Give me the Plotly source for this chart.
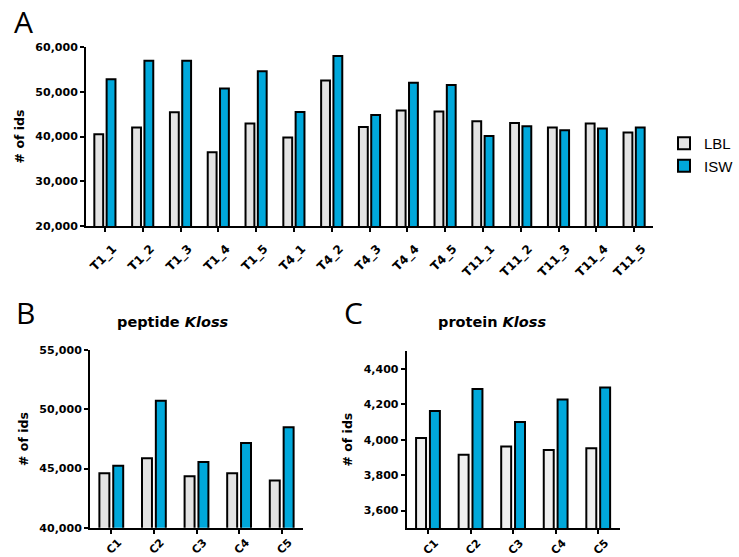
import plotly.graph_objects as go

# ---------------- data ----------------
samples_a = ["T1_1", "T1_2", "T1_3", "T1_4", "T1_5",
             "T4_1", "T4_2", "T4_3", "T4_4", "T4_5",
             "T11_1", "T11_2", "T11_3", "T11_4", "T11_5"]
lbl_a = [40500, 42000, 45400, 36500, 42900,
         39800, 52500, 42100, 45800, 45600,
         43400, 43000, 42000, 42900, 40900]
isw_a = [52800, 56900, 56900, 50700, 54600,
         45500, 58000, 44800, 52000, 51500,
         40100, 42300, 41400, 41800, 42000]

conditions = ["C1", "C2", "C3", "C4", "C5"]
lbl_pep = [44600, 45870, 44340, 44600, 44000]
isw_pep = [45240, 50740, 45550, 47160, 48490]
lbl_prot = [4010, 3915, 3962, 3942, 3952]
isw_prot = [4162, 4285, 4099, 4226, 4294]

# ---------------- styling ----------------
W, H = 739, 557
LBL_COL = "#e3e3e3"
LBL_COL_C = "#efefef"
ISW_COL = "#00a8db"
TICKFONT = dict(family="DejaVu Sans", size=11, color="black", weight="bold")
XTICKFONT = dict(family="DejaVu Sans", size=12, color="black", weight="bold")
XTICKFONT_BC = dict(family="DejaVu Sans", size=11, color="black", weight="bold")


def px(x):
    return x / W


def py(y):
    return 1 - y / H


fig = go.Figure()


def add_pair(xs, lbl, isw, xa, ya, show, lbl_col):
    fig.add_trace(go.Bar(x=xs, y=lbl, name="LBL", xaxis=xa, yaxis=ya,
                         marker=dict(color=lbl_col, line=dict(color="black", width=2)),
                         showlegend=show, legendgroup="LBL"))
    fig.add_trace(go.Bar(x=xs, y=isw, name="ISW", xaxis=xa, yaxis=ya,
                         marker=dict(color=ISW_COL, line=dict(color="black", width=2)),
                         showlegend=show, legendgroup="ISW"))


add_pair(samples_a, lbl_a, isw_a, "x", "y", True, LBL_COL)
add_pair(conditions, lbl_pep, isw_pep, "x2", "y2", False, LBL_COL)
add_pair(conditions, lbl_prot, isw_prot, "x3", "y3", False, LBL_COL_C)

axis_common = dict(showline=True, linecolor="black", linewidth=2,
                   ticks="outside", ticklen=4, tickwidth=1.5, tickcolor="black",
                   showgrid=False, zeroline=False, automargin=False)
xaxis_a = dict(tickangle=-45, tickfont=XTICKFONT, ticklabelshift=8,
               ticklabelstandoff=5, **axis_common)
xaxis_bc = dict(tickangle=-45, tickfont=XTICKFONT_BC, ticklabelshift=7,
                ticklabelstandoff=-2, **axis_common)
yaxis_common = dict(tickformat=",", tickfont=TICKFONT, **axis_common)
ytitle = dict(text="<b># of ids</b>", standoff=8,
              font=dict(family="DejaVu Sans", size=12.5, color="black"))

fig.update_layout(
    width=W, height=H,
    margin=dict(l=0, r=0, t=0, b=0, autoexpand=False),
    paper_bgcolor="white", plot_bgcolor="white",
    barmode="group", bargap=0.35, bargroupgap=0.28,
    showlegend=True,
    legend=dict(x=px(664), y=py(127), xanchor="left", yanchor="top",
                font=dict(family="Liberation Sans", size=15, color="black"),
                bgcolor="rgba(0,0,0,0)", tracegroupgap=0, itemwidth=30),
    xaxis=dict(domain=[px(86), px(653)], anchor="y",
               range=[-0.5, len(samples_a) - 0.5], **xaxis_a),
    yaxis=dict(domain=[py(226), py(47)], anchor="x", range=[20000, 60000],
               dtick=10000, title=ytitle, **yaxis_common),
    xaxis2=dict(domain=[px(90), px(303)], anchor="y2",
                range=[-0.5, len(conditions) - 0.5], **xaxis_bc),
    yaxis2=dict(domain=[py(527.7), py(350.3)], anchor="x2", range=[40000, 55000],
                dtick=5000, title=ytitle, **yaxis_common),
    xaxis3=dict(domain=[px(406.7), px(619.5)], anchor="y3",
                range=[-0.5, len(conditions) - 0.5], **xaxis_bc),
    yaxis3=dict(domain=[py(528.3), py(351)], anchor="x3", range=[3500, 4500],
                tick0=3600, dtick=200, title=ytitle, **yaxis_common),
)

letter_font = dict(family="Open Sans", size=30, color="black")
for txt, x, y in [("A", 12, 21), ("B", 14, 312), ("C", 342, 312)]:
    fig.add_annotation(text=txt, x=px(x), y=py(y), xref="paper", yref="paper",
                       xanchor="left", yanchor="middle", showarrow=False, font=letter_font)

title_font = dict(family="DejaVu Sans", size=14.5, color="black")
fig.add_annotation(text="<b>peptide <i>Kloss</i></b>", x=px(173), y=py(322),
                   xref="paper", yref="paper", xanchor="center", yanchor="middle",
                   showarrow=False, font=title_font)
fig.add_annotation(text="<b>protein <i>Kloss</i></b>", x=px(492), y=py(322),
                   xref="paper", yref="paper", xanchor="center", yanchor="middle",
                   showarrow=False, font=title_font)

fig.write_html("out.html")
